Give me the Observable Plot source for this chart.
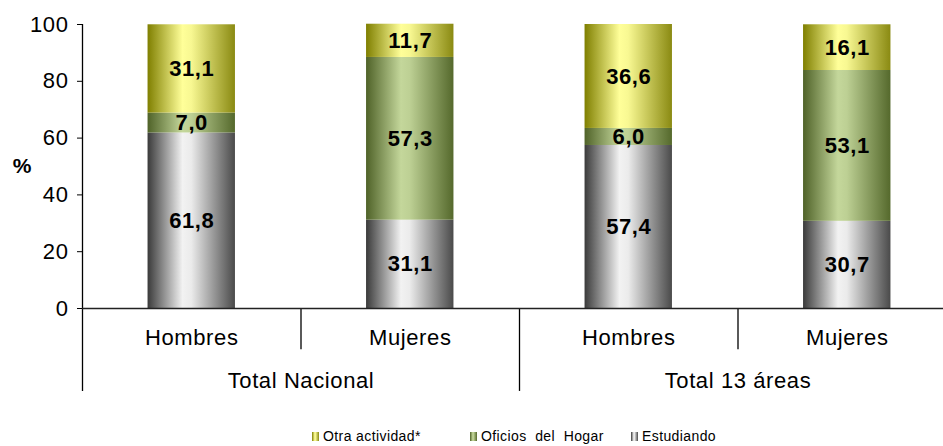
<!DOCTYPE html>
<html>
<head>
<meta charset="utf-8">
<script src="https://cdn.jsdelivr.net/npm/d3@7"></script>
<script src="https://cdn.jsdelivr.net/npm/@observablehq/plot@0.6"></script>
<style>
  html, body { margin: 0; padding: 0; background: #fff; }
  #wrap { position: relative; width: 943px; height: 446px; overflow: hidden; font-family: "Liberation Sans", Arial, sans-serif; }
  #legend { position: absolute; left: 0; top: 428px; width: 943px; height: 18px; font-size: 14px; letter-spacing: 0.4px; color: #000; }
  .item { position: absolute; top: 0; display: flex; align-items: center; white-space: pre; }
  .sw { width: 7px; height: 9px; margin-right: 4px; margin-top: 1px; }
  svg text { letter-spacing: 0.6px; }
</style>
</head>
<body>
<div id="wrap">
  <div id="chart"></div>
  <div id="legend"></div>
</div>
<script>
// ---- data ----
const groups = ["Total Nacional", "Total 13 áreas"];
const sexes = ["Hombres", "Mujeres", "Hombres", "Mujeres"];
const series = ["Estudiando", "Oficios  del  Hogar", "Otra actividad*"];
const estudiando = [61.8, 31.1, 57.4, 30.7];
const oficios = [7.0, 57.3, 6.0, 53.1];
const otra = [31.1, 11.7, 36.6, 16.1];
const yTicks = [0, 20, 40, 60, 80, 100];

// gradient styles (colors only)
const gradients = {
  "Estudiando": ["#3a3a3a", "#f2f2f2", "#ebebeb", "#4a4a4a"],
  "Oficios  del  Hogar": ["#4f6228", "#c4d79b", "#bdd094", "#55692c"],
  "Otra actividad*": ["#7f7f00", "#ffff99", "#f8f892", "#8a8a12"]
};
const gid = s => "g" + series.indexOf(s);

// build long table
const seriesValues = [estudiando, oficios, otra];
const rows = [];
sexes.forEach((sx, i) => {
  series.forEach((s, k) => {
    rows.push({i, sex: sx, series: s, value: seriesValues[k][i]});
  });
});
const fmt = v => v.toFixed(1).replace(".", ",");

const catIdx = sexes.map((s, i) => i);
const boundaries = d3.range(0, sexes.length + 1);
const longDiv = boundaries.filter(b => b % 2 === 0);
const shortDiv = boundaries.filter(b => b % 2 === 1);

const font = "'Liberation Sans', Arial, sans-serif";

const chart = Plot.plot({
  width: 943,
  height: 418,
  marginTop: 24,
  marginBottom: 110,
  marginLeft: 82,
  marginRight: 0,
  style: {fontFamily: font, fontSize: "22px", color: "#000", background: "#fff", overflow: "visible"},
  x: {type: "linear", domain: [0, sexes.length], range: [82, 956], axis: null},
  y: {domain: [0, 100], ticks: yTicks, tickSize: 5, tickPadding: 9, label: null, tickFormat: d => d},
  color: {type: "ordinal", domain: series, range: series.map(s => `url(#${gid(s)})`)},
  marks: [
    Plot.rectY(rows, Plot.stackY({
      x1: d => d.i + 0.3,
      x2: d => d.i + 0.7,
      y: "value",
      fill: "series",
      order: null
    })),
    Plot.text(rows, Plot.stackY({
      x: d => d.i + 0.5,
      y: "value",
      z: "series",
      text: d => fmt(d.value),
      fontSize: 22,
      fontWeight: "bold",
      fill: "#000",
      order: null
    })),
    // axes lines / dividers
    Plot.ruleX([0], {y1: -29.2, y2: 100, stroke: "#000", strokeWidth: 1.3}),
    Plot.ruleX(longDiv.filter(b => b > 0), {y1: -29.2, y2: 0, stroke: "#000", strokeWidth: 1.3}),
    Plot.ruleX(shortDiv, {y1: -14.5, y2: 0, stroke: "#000", strokeWidth: 1.3}),
    Plot.ruleY([0], {x1: 0, x2: sexes.length, stroke: "#222", strokeWidth: 1.6}),
    // category labels
    Plot.text(catIdx, {x: i => i + 0.5, y: -10.2, text: i => sexes[i], fontSize: 22, fill: "#000"}),
    Plot.text(groups, {x: (g, k) => 2 * k + 1, y: -25.4, text: g => g, fontSize: 22, fill: "#000"}),
    // % label
    Plot.text(["%"], {frameAnchor: "left", y: 50, dx: -60, textAnchor: "middle", text: d => d, fontSize: 21, fontWeight: "bold", fill: "#000"})
  ]
});

// gradient defs
const svg = d3.select(chart);
const defs = svg.insert("defs", ":first-child");
series.forEach(s => {
  const c = gradients[s];
  const lg = defs.append("linearGradient").attr("id", gid(s)).attr("x1", "0").attr("x2", "1").attr("y1", "0").attr("y2", "0");
  [[0, c[0]], [0.4, c[1]], [0.5, c[2]], [1, c[3]]].forEach(([o, col]) => lg.append("stop").attr("offset", o).attr("stop-color", col));
});
svg.selectAll("g[aria-label='y-axis tick'] path, g[aria-label='y-axis'] path").attr("stroke", "#000");

document.getElementById("chart").appendChild(chart);

// legend (order as in reference)
const legendOrder = ["Otra actividad*", "Oficios  del  Hogar", "Estudiando"];
const legendLeft = [312, 470, 631];
const leg = document.getElementById("legend");
legendOrder.forEach((s, k) => {
  const c = gradients[s];
  const it = document.createElement("div");
  it.className = "item";
  it.style.left = legendLeft[k] + "px";
  const sw = document.createElement("span");
  sw.className = "sw";
  sw.style.background = `linear-gradient(to right, ${c[0]}, ${c[1]} 40%, ${c[2]} 50%, ${c[3]})`;
  const tx = document.createElement("span");
  tx.textContent = s;
  it.appendChild(sw);
  it.appendChild(tx);
  leg.appendChild(it);
});
</script>
</body>
</html>
